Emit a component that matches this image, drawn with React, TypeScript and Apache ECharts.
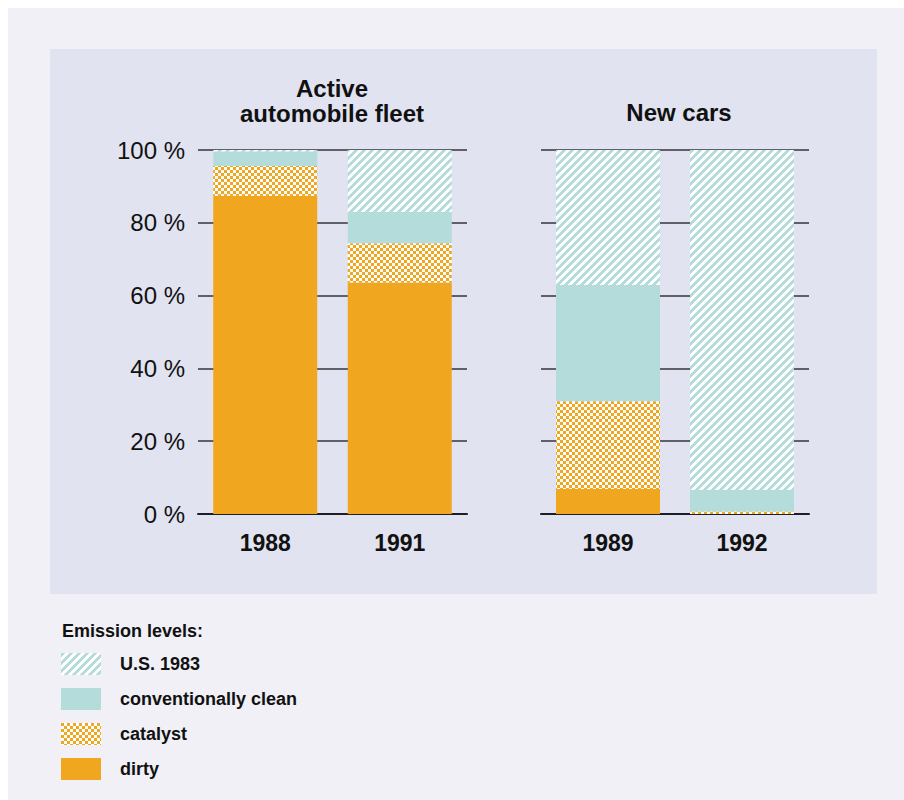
import React, { useEffect, useRef } from "react";
import * as echarts from "echarts";

// Share of each emission level, in percent of the fleet / of new registrations
const fleetYears = ["1988", "1991"];
const newCarYears = ["1989", "1992"];

const dirtyFleet = [87.4, 63.6];
const catalystFleet = [8.2, 10.8];
const cleanFleet = [4.0, 8.6];
const us1983Fleet = [0.4, 17.0];

const dirtyNew = [6.9, 0];
const catalystNew = [24.1, 0.7];
const cleanNew = [31.9, 5.9];
const us1983New = [37.1, 93.4];

const yTicks = { min: 0, max: 100, interval: 20 };

const legendNames = ["U.S. 1983", "conventionally clean", "catalyst", "dirty"];

const ORANGE = "#f0a71f";
const CYAN = "#b4dcda";
const FONT = "'Liberation Sans', Arial, sans-serif";

function makeTile(size: number, paint: (x: number, y: number) => boolean, fg: string) {
  const c = document.createElement("canvas");
  c.width = size;
  c.height = size;
  const ctx = c.getContext("2d")!;
  ctx.fillStyle = "#ffffff";
  ctx.fillRect(0, 0, size, size);
  ctx.fillStyle = fg;
  for (let y = 0; y < size; y++) {
    for (let x = 0; x < size; x++) {
      if (paint(x, y)) ctx.fillRect(x, y, 1, 1);
    }
  }
  return c;
}

export default function App() {
  const ref = useRef<HTMLDivElement>(null);

  useEffect(() => {
    if (!ref.current) return;
    const chart = echarts.init(ref.current, undefined, { renderer: "svg" });

    const stripeTile = makeTile(8, (x, y) => (x + y) % 8 < 4, CYAN);
    const checkTile = makeTile(6, (x, y) => (Math.floor(x / 3) + Math.floor(y / 3)) % 2 === 0, ORANGE);
    const stripes: any = { image: stripeTile, repeat: "repeat", imageWidth: 8, imageHeight: 8 };
    const checks: any = { image: checkTile, repeat: "repeat", imageWidth: 6, imageHeight: 6 };

    const splitLine = { show: true, lineStyle: { color: "#35353d", width: 1.5 } };

    const yAxisBase = {
      type: "value" as const,
      min: yTicks.min,
      max: yTicks.max,
      interval: yTicks.interval,
      axisLine: { show: false },
      axisTick: { show: false },
      splitLine,
    };

    const xAxisBase = {
      type: "category" as const,
      axisTick: { show: false },
      axisLine: { show: true, lineStyle: { color: "#1e1e24", width: 2 } },
      axisLabel: {
        fontFamily: FONT,
        fontWeight: "bold" as const,
        fontSize: 23,
        color: "#111",
        margin: 17,
      },
    };

    const mk = (name: string, data: number[], color: any, idx: number) => ({
      name,
      type: "bar" as const,
      stack: "s" + idx,
      xAxisIndex: idx,
      yAxisIndex: idx,
      barWidth: 104,
      data,
      itemStyle: { color },
    });

    chart.setOption({
      animation: false,
      backgroundColor: "#f1f0f6",
      graphic: [
        {
          type: "rect",
          z: -10,
          shape: { x: 42, y: 41, width: 827, height: 545 },
          style: { fill: "#e1e3f0" },
        },
        {
          type: "text",
          x: 324,
          y: 68,
          style: {
            text: "Active\nautomobile fleet",
            textAlign: "center",
            textVerticalAlign: "top",
            font: `bold 24px ${FONT}`,
            lineHeight: 25,
            fill: "#111",
          },
        },
        {
          type: "text",
          x: 671,
          y: 104,
          style: {
            text: "New cars",
            textAlign: "center",
            textVerticalAlign: "middle",
            font: `bold 24px ${FONT}`,
            fill: "#111",
          },
        },
        {
          type: "text",
          x: 54,
          y: 623,
          style: {
            text: "Emission levels:",
            textAlign: "left",
            textVerticalAlign: "middle",
            font: `bold 18px ${FONT}`,
            fill: "#111",
          },
        },
      ],
      legend: {
        orient: "vertical",
        left: 48,
        top: 640,
        itemWidth: 40,
        itemHeight: 22,
        itemGap: 13,
        icon: "rect",
        data: legendNames,
        selectedMode: false,
        textStyle: {
          fontFamily: FONT,
          fontWeight: "bold",
          fontSize: 18,
          color: "#111",
          padding: [0, 0, 0, 14],
        },
      },
      grid: [
        { left: 190, top: 142, width: 269, height: 364 },
        { left: 533, top: 142, width: 268, height: 364 },
      ],
      xAxis: [
        { ...xAxisBase, gridIndex: 0, data: fleetYears },
        { ...xAxisBase, gridIndex: 1, data: newCarYears },
      ],
      yAxis: [
        {
          ...yAxisBase,
          gridIndex: 0,
          axisLabel: {
            formatter: "{value} %",
            fontFamily: FONT,
            fontSize: 24,
            color: "#111",
            margin: 13,
          },
        },
        { ...yAxisBase, gridIndex: 1, axisLabel: { show: false } },
      ],
      series: [
        mk("dirty", dirtyFleet, ORANGE, 0),
        mk("catalyst", catalystFleet, checks, 0),
        mk("conventionally clean", cleanFleet, CYAN, 0),
        mk("U.S. 1983", us1983Fleet, stripes, 0),
        mk("dirty", dirtyNew, ORANGE, 1),
        mk("catalyst", catalystNew, checks, 1),
        mk("conventionally clean", cleanNew, CYAN, 1),
        mk("U.S. 1983", us1983New, stripes, 1),
      ],
    });

    return () => chart.dispose();
  }, []);

  return (
    <div
      ref={ref}
      style={{ position: "fixed", left: 8, top: 8, width: 896, height: 792 }}
    />
  );
}
